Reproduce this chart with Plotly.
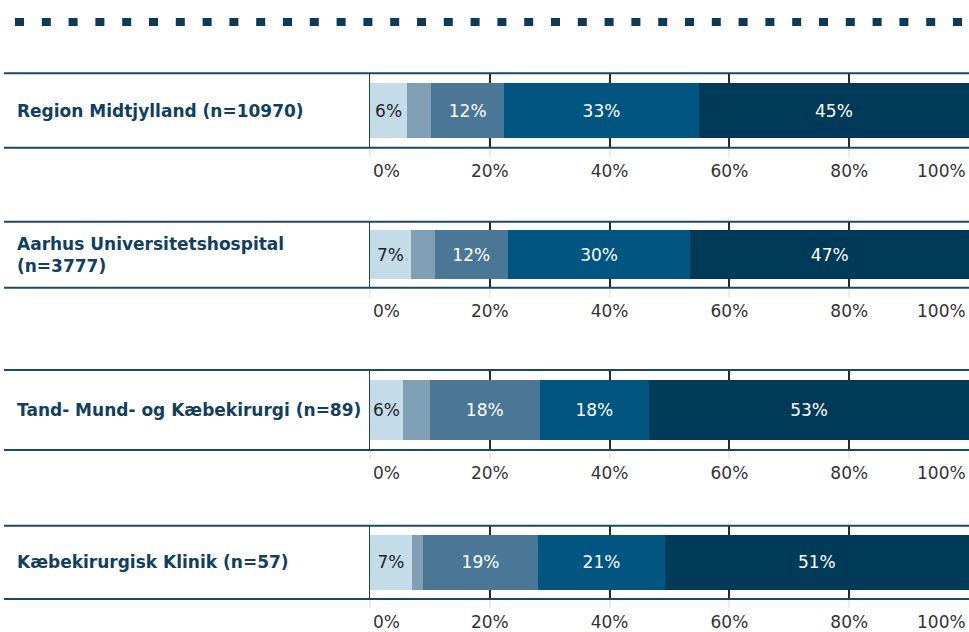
import plotly.graph_objects as go

# ---------------- data ----------------
categories = [
    "Region Midtjylland (n=10970)",
    "Aarhus Universitetshospital<br>(n=3777)",
    "Tand- Mund- og Kæbekirurgi (n=89)",
    "Kæbekirurgisk Klinik (n=57)",
]
seg1 = [6.2, 6.8, 5.5, 7.0]
seg2 = [4.0, 4.0, 4.5, 1.8]
seg3 = [12.2, 12.2, 18.3, 19.3]
seg4 = [32.5, 30.5, 18.3, 21.1]
seg5 = [45.1, 46.5, 53.4, 50.8]
lab1 = ["6%", "7%", "6%", "7%"]
lab2 = ["", "", "", ""]
lab3 = ["12%", "12%", "18%", "19%"]
lab4 = ["33%", "30%", "18%", "21%"]
lab5 = ["45%", "47%", "53%", "51%"]
tick_vals = [0, 20, 40, 60, 80, 100]
tick_text = ["0%", "20%", "40%", "60%", "80%", "100%"]

# ---------------- style ----------------
W, H = 969, 632
seg_colors = ["#c3dce8", "#809fb4", "#4a7795", "#005581", "#003a59"]
text_colors = ["#222222", "#ffffff", "#ffffff", "#ffffff", "#ffffff"]
navy = "#103f5f"
line_col = "#1b4866"
FONT = "DejaVu Sans"
TICK_SIZE = 17
# panel top/bottom in pixels
panels_px = [(73.3, 147.7), (221.7, 287.7), (370.0, 450.0), (525.7, 599.0)]
x_left_px = 370

segments = [seg1, seg2, seg3, seg4, seg5]
labels = [lab1, lab2, lab3, lab4, lab5]

fig = go.Figure()
for p in range(4):
    ax = "" if p == 0 else str(p + 1)
    for k in range(5):
        fig.add_trace(go.Bar(
            x=[segments[k][p]], y=[categories[p]], orientation="h",
            marker=dict(color=seg_colors[k], line=dict(width=0)),
            text=[labels[k][p]], textposition="inside", insidetextanchor="middle",
            textangle=0,
            textfont=dict(family=FONT, size=TICK_SIZE, color=text_colors[k]),
            xaxis="x" + ax, yaxis="y" + ax, showlegend=False, hoverinfo="skip",
            cliponaxis=False,
        ))

layout = dict(
    width=W, height=H, margin=dict(l=0, r=0, t=0, b=0),
    paper_bgcolor="white", plot_bgcolor="white",
    barmode="stack", bargap=0.25,
    uniformtext=dict(minsize=TICK_SIZE, mode="show"),
    showlegend=False,
)
shapes = []
annotations = []
for p, (top, bot) in enumerate(panels_px):
    ax = "" if p == 0 else str(p + 1)
    axn = str(p + 1)
    dom = [1 - bot / H, 1 - top / H]
    layout["xaxis" + axn] = dict(
        domain=[x_left_px / W, 1], range=[0, 100], anchor="y" + ax,
        tickvals=tick_vals[:-1], ticktext=[""] + tick_text[1:-1],
        showgrid=True, gridcolor="#2a2a2a", gridwidth=1.5,
        ticks="outside", ticklen=8, tickcolor="#ececec", tickwidth=1.5,
        tickfont=dict(family=FONT, size=TICK_SIZE, color="#333333"),
        ticklabelstandoff=0,
        showline=False, zeroline=False, fixedrange=True,
    )
    layout["yaxis" + axn] = dict(
        domain=dom, anchor="x" + ax, showticklabels=False, ticks="",
        showgrid=False, zeroline=False, showline=True, linecolor="#24473c",
        linewidth=1, fixedrange=True,
    )
    # top & bottom rules of the panel
    for yv in (0, 1):
        shapes.append(dict(type="line", xref="paper", yref="y" + ax + " domain",
                           x0=4 / W, x1=1, y0=yv, y1=yv,
                           line=dict(color=line_col, width=2), layer="above"))
    # row label
    annotations.append(dict(
        text="<b>" + categories[p] + "</b>", xref="paper", yref="y" + ax + " domain",
        x=17 / W, y=0.5, xanchor="left", yanchor="middle", align="left", xshift=-2,
        showarrow=False, font=dict(family=FONT, size=17, color=navy)))
    # edge tick labels aligned inward
    annotations.append(dict(
        text=tick_text[0], xref="x" + ax, yref="y" + ax + " domain",
        x=tick_vals[0], y=0, xanchor="left", yanchor="top", xshift=1, yshift=-11,
        showarrow=False, font=dict(family=FONT, size=TICK_SIZE, color="#333333")))
    annotations.append(dict(
        text=tick_text[-1], xref="x" + ax, yref="y" + ax + " domain",
        x=tick_vals[-1], y=0, xanchor="right", yanchor="top", xshift=-1, yshift=-11,
        showarrow=False, font=dict(family=FONT, size=TICK_SIZE, color="#333333")))

# dotted decoration line at the top
shapes.append(dict(type="line", xref="paper", yref="paper",
                   x0=15 / W, x1=962 / W, y0=1 - 22 / H, y1=1 - 22 / H,
                   line=dict(color="#0b3a5a", width=8, dash="9px,17.8px")))

layout["shapes"] = shapes
layout["annotations"] = annotations
fig.update_layout(**layout)
fig.write_html("out.html", config={"displayModeBar": False},
               post_script="document.body.style.margin='0';")
